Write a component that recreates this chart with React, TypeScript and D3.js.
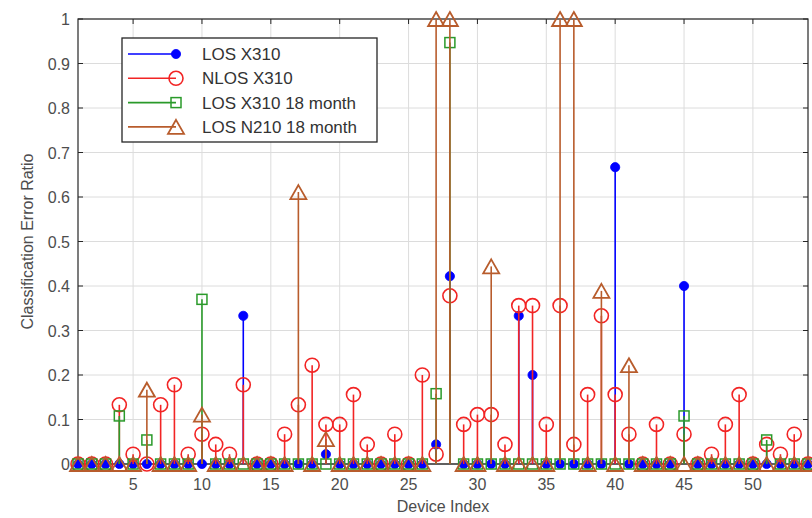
import React from "react";
import * as d3 from "d3";

const devices: number[] = d3.range(1, 55);

const losX310: number[] = [
  0, 0, 0, 0, 0, 0, 0, 0, 0, 0,
  0, 0, 0.333, 0, 0, 0, 0, 0, 0.022, 0,
  0, 0, 0, 0, 0, 0, 0.044, 0.422, 0, 0,
  0, 0, 0.333, 0.2, 0, 0, 0, 0, 0, 0.667,
  0, 0, 0, 0, 0.4, 0, 0, 0, 0, 0,
  0, 0, 0, 0,
];

const nlosX310: number[] = [
  0, 0, 0, 0.133, 0.022, 0, 0.133, 0.178, 0.022, 0.067,
  0.044, 0.022, 0.178, 0, 0, 0.067, 0.133, 0.222, 0.089, 0.089,
  0.156, 0.044, 0, 0.067, 0, 0.2, 0.022, 0.378, 0.089, 0.111,
  0.111, 0.044, 0.356, 0.356, 0.089, 0.356, 0.044, 0.156, 0.333, 0.156,
  0.067, 0, 0.089, 0, 0.067, 0, 0.022, 0.089, 0.156, 0,
  0.044, 0.022, 0.067, 0,
];

const losX310_18m: number[] = [
  0, 0, 0, 0.108, 0, 0.054, 0, 0, 0, 0.37,
  0, 0, 0, 0, 0, 0, 0, 0, 0, 0,
  0, 0, 0, 0, 0, 0, 0.158, 0.947, 0, 0,
  0, 0, 0, 0, 0, 0, 0, 0, 0, 0,
  0, 0, 0, 0, 0.108, 0, 0, 0, 0, 0,
  0.054, 0, 0, 0,
];

const losN210_18m: number[] = [
  0, 0, 0, 0, 0, 0.167, 0, 0, 0, 0.111,
  0, 0, 0, 0, 0, 0, 0.611, 0, 0.056, 0,
  0, 0, 0, 0, 0, 0, 1, 1, 0, 0,
  0.444, 0, 0, 0, 0, 1, 1, 0, 0.389, 0,
  0.222, 0, 0, 0, 0, 0, 0, 0, 0, 0,
  0, 0, 0, 0,
];

const seriesNames: string[] = ["LOS X310", "NLOS X310", "LOS X310 18 month", "LOS N210 18 month"];
const xTicks: number[] = [5, 10, 15, 20, 25, 30, 35, 40, 45, 50];
const yTicks: number[] = [0, 0.1, 0.2, 0.3, 0.4, 0.5, 0.6, 0.7, 0.8, 0.9, 1];

const COLORS = ["#0000ff", "#f22424", "#2a9a2a", "#b85c2c"];
const FONT = "'Liberation Sans', Arial, sans-serif";

type Kind = "dot" | "circle" | "square" | "tri";
const KINDS: Kind[] = ["dot", "circle", "square", "tri"];

function Marker({ kind, x, y, color }: { kind: Kind; x: number; y: number; color: string }) {
  if (kind === "dot") return <circle cx={x} cy={y} r={4.6} fill={color} stroke={color} strokeWidth={0.8} />;
  if (kind === "circle") return <circle cx={x} cy={y} r={7} fill="none" stroke={color} strokeWidth={1.6} />;
  if (kind === "square") return <rect x={x - 5} y={y - 5} width={10} height={10} fill="none" stroke={color} strokeWidth={1.5} />;
  const w = 8, h = 7;
  return (
    <path d={`M${x},${y - h} L${x + w},${y + h} L${x - w},${y + h} Z`} fill="none" stroke={color} strokeWidth={1.8} strokeLinejoin="miter" />
  );
}

export default function App() {
  const W = 812, H = 518;
  const L = 78, R = 808, T = 19, B = 464;
  const x = d3.scaleLinear().domain([1, 54]).range([L, R]);
  const y = d3.scaleLinear().domain([0, 1]).range([B, T]);
  const series = [losX310, nlosX310, losX310_18m, losN210_18m];
  const axisColor = "#262626";
  const textColor = "#4d4d4d";

  return (
    <svg width={W} height={H} style={{ position: "absolute", left: 0, top: 0, background: "#fff" }}>
      <rect x={0} y={0} width={W} height={H} fill="#fff" />
      {/* grid */}
      {xTicks.map((t) => (
        <line key={"gx" + t} x1={x(t)} x2={x(t)} y1={T} y2={B} stroke="#dcdcdc" strokeWidth={1} />
      ))}
      {yTicks.map((t) => (
        <line key={"gy" + t} x1={L} x2={R} y1={y(t)} y2={y(t)} stroke="#dcdcdc" strokeWidth={1} />
      ))}
      {/* box */}
      <rect x={L} y={T} width={R - L} height={B - T} fill="none" stroke={axisColor} strokeWidth={1.2} />
      {xTicks.map((t) => (
        <g key={"tx" + t}>
          <line x1={x(t)} x2={x(t)} y1={B} y2={B - 5} stroke={axisColor} />
          <line x1={x(t)} x2={x(t)} y1={T} y2={T + 5} stroke={axisColor} />
          <text x={x(t)} y={B + 26} textAnchor="middle" fontFamily={FONT} fontSize={16} fill={textColor}>{t}</text>
        </g>
      ))}
      {yTicks.map((t) => (
        <g key={"ty" + t}>
          <line x1={L} x2={L + 5} y1={y(t)} y2={y(t)} stroke={axisColor} />
          <line x1={R} x2={R - 5} y1={y(t)} y2={y(t)} stroke={axisColor} />
          <text x={L - 8} y={y(t) + 6} textAnchor="end" fontFamily={FONT} fontSize={16} fill={textColor}>{String(t)}</text>
        </g>
      ))}
      {/* baseline */}
      <line x1={L} x2={R} y1={y(0)} y2={y(0)} stroke="#5a5a5a" strokeWidth={1.6} />
      {/* stems */}
      {series.map((vals, si) => (
        <g key={"s" + si}>
          {vals.map((v, i) => (
            <line key={"l" + i} x1={x(devices[i])} x2={x(devices[i])} y1={y(0)} y2={y(v)} stroke={COLORS[si]} strokeWidth={1.6} />
          ))}
          {vals.map((v, i) => (
            <Marker key={"m" + i} kind={KINDS[si]} x={x(devices[i])} y={y(v)} color={COLORS[si]} />
          ))}
        </g>
      ))}
      {/* axis labels */}
      <text x={(L + R) / 2} y={512} textAnchor="middle" fontFamily={FONT} fontSize={16} fill={textColor}>Device Index</text>
      <text transform={`translate(33,${(T + B) / 2}) rotate(-90)`} textAnchor="middle" fontFamily={FONT} fontSize={16} fill={textColor}>Classification Error Ratio</text>
      {/* legend */}
      <g>
        <rect x={122} y={38} width={255} height={104} fill="#fff" stroke={axisColor} strokeWidth={1.3} />
        {seriesNames.map((name, i) => {
          const ly = 54 + i * 24.3;
          return (
            <g key={"lg" + i}>
              <line x1={128} x2={176} y1={ly} y2={ly} stroke={COLORS[i]} strokeWidth={1.6} />
              <Marker kind={KINDS[i]} x={176} y={ly} color={COLORS[i]} />
              <text x={202} y={ly + 6} fontFamily={FONT} fontSize={17} fill="#333">{name}</text>
            </g>
          );
        })}
      </g>
    </svg>
  );
}
